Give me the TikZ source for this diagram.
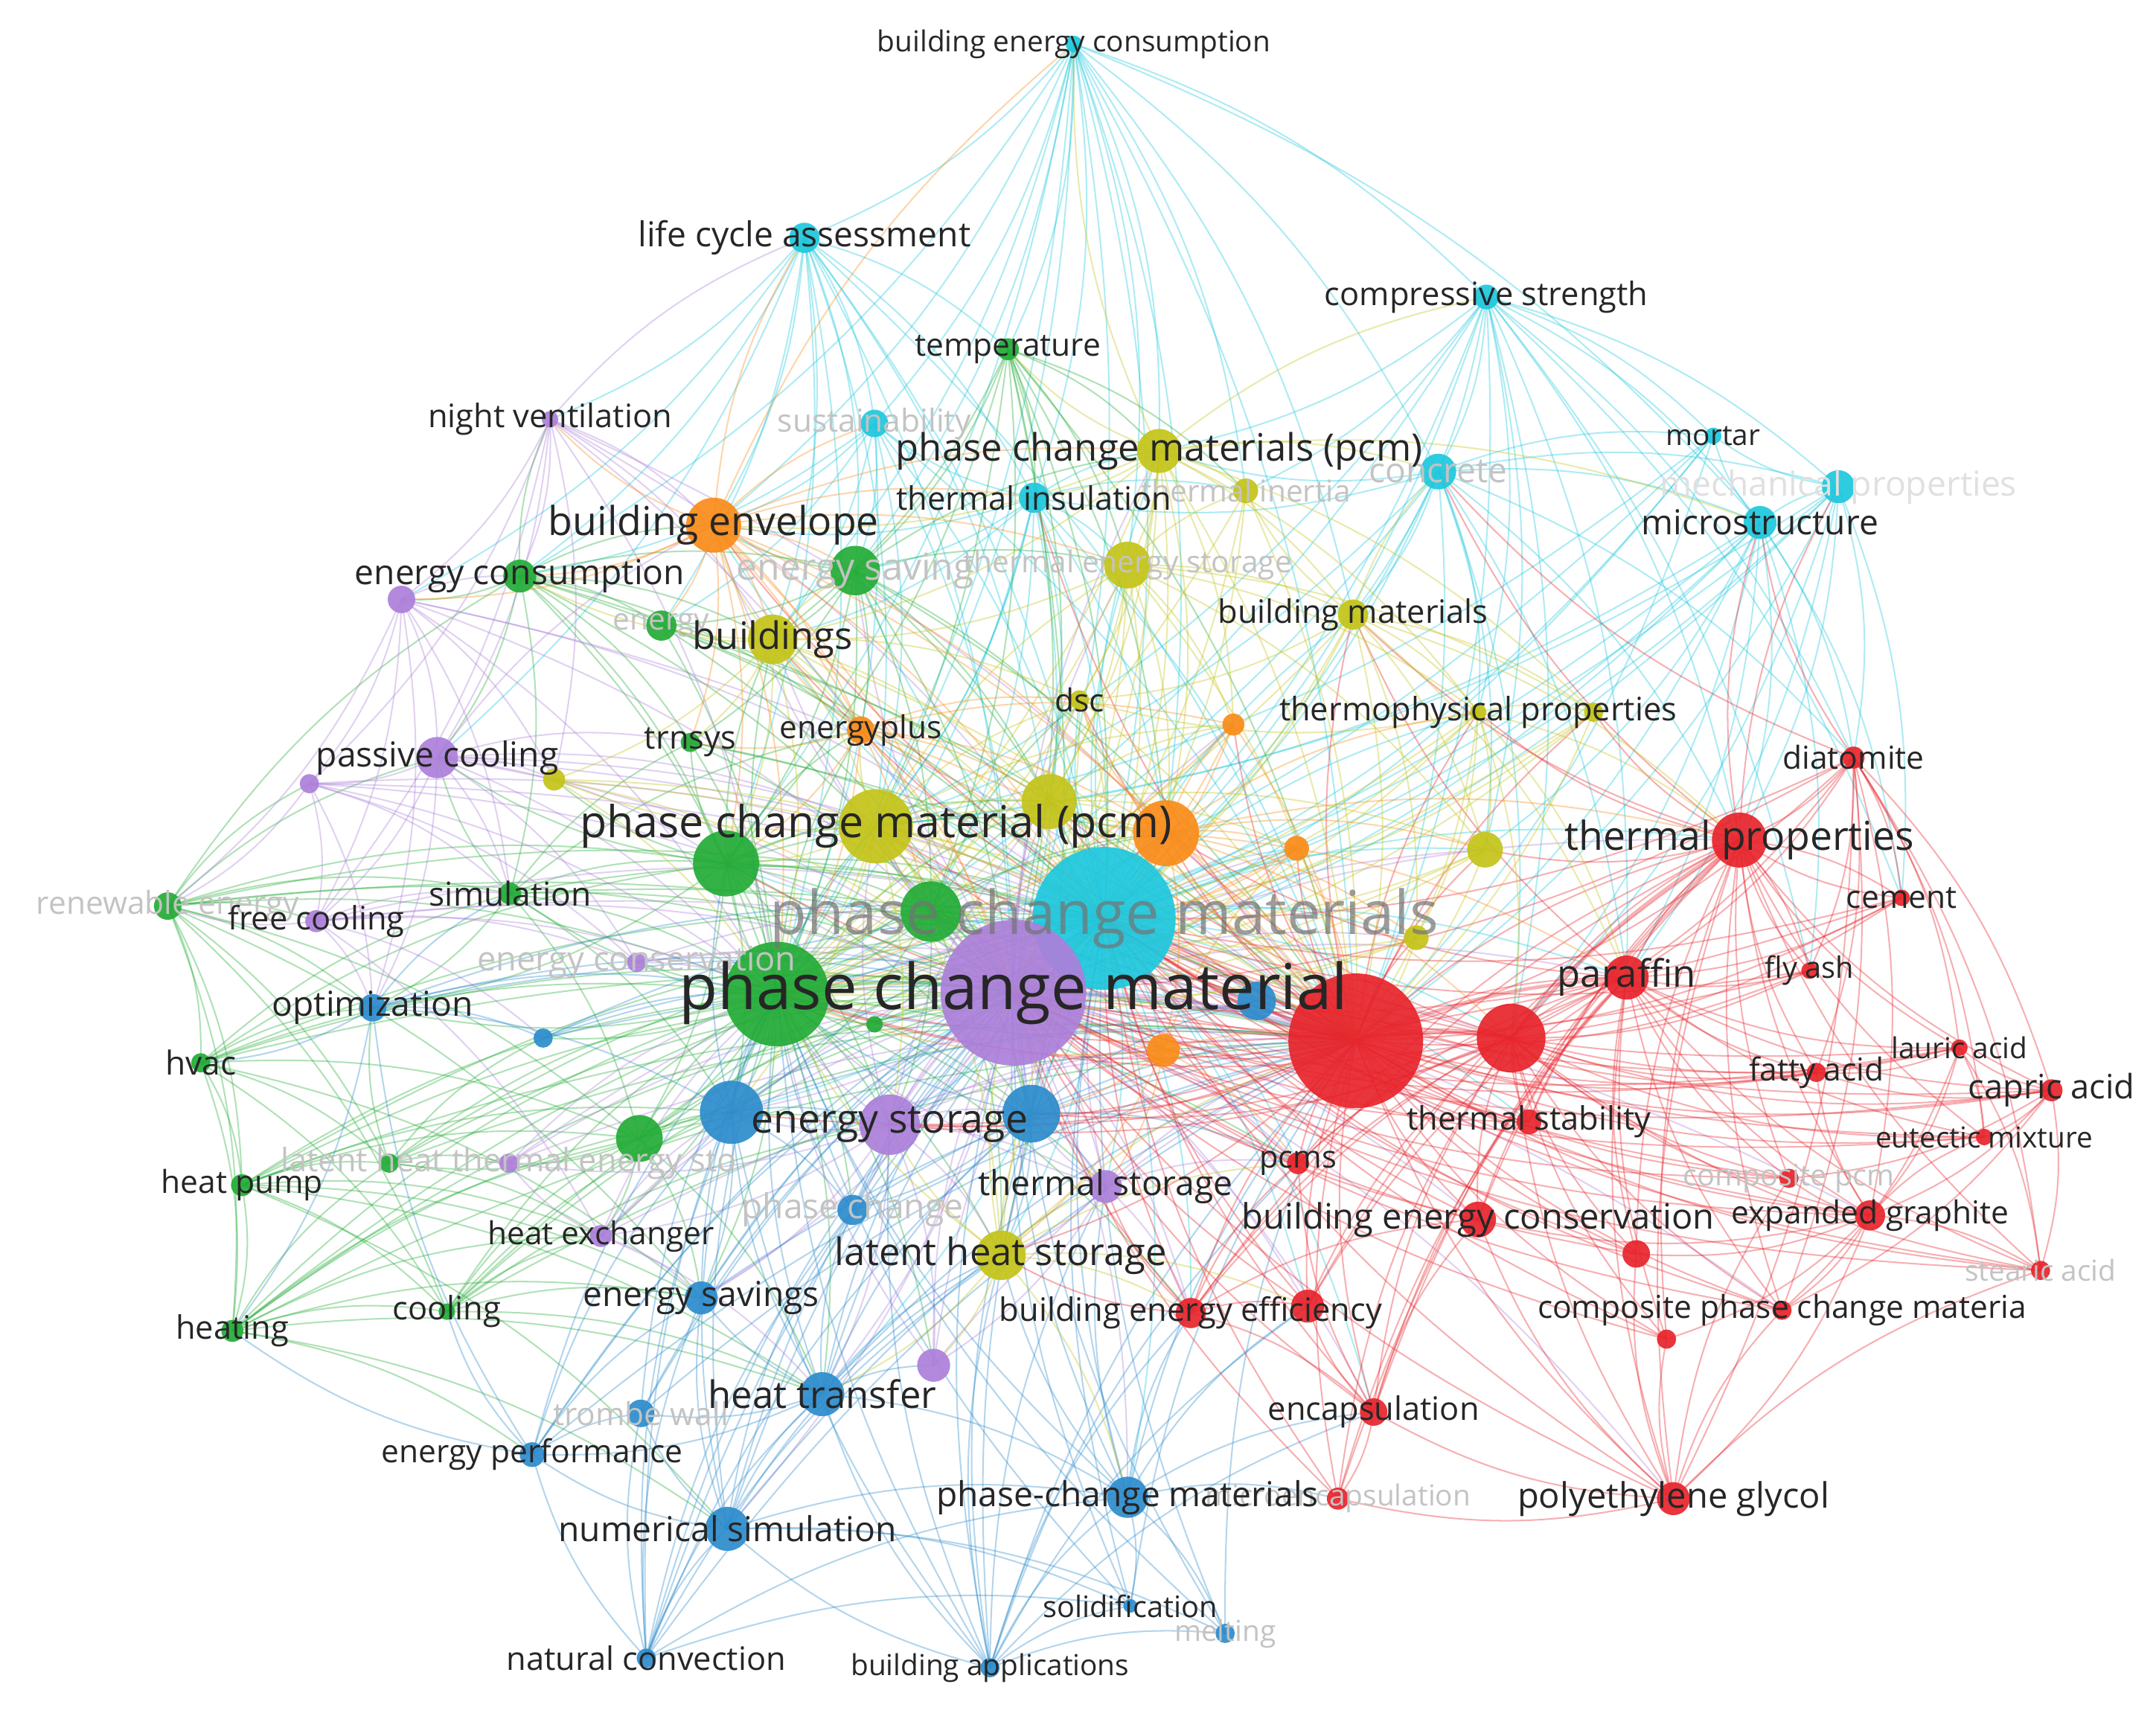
\documentclass[tikz,border=0pt]{standalone}
\usepackage{fontspec}
\setmainfont{Open Sans}
\definecolor{cyn}{RGB}{30,200,222}
\definecolor{grn}{RGB}{35,172,55}
\definecolor{blu}{RGB}{45,140,205}
\definecolor{yel}{RGB}{196,196,25}
\definecolor{pur}{RGB}{172,128,218}
\definecolor{rd}{RGB}{232,36,44}
\definecolor{org}{RGB}{250,140,25}
\definecolor{lbl}{RGB}{38,38,38}
\definecolor{fnt}{RGB}{195,195,195}
\newcommand\myedges[3]{\foreach \pa in {#2}{\foreach \pb in {#3}{\draw[edge,#1] (\pa) to[bend left=13] (\pb);}}}
\begin{document}
\begin{tikzpicture}[x=1pt,y=-1pt,
  edge/.style={line width=1.1pt, draw opacity=0.36},
  hub/.style={line width=2.6pt, draw opacity=0.35},
  lab/.style={text=lbl, inner sep=0pt},
  flab/.style={text=fnt, inner sep=0pt}]
\useasboundingbox (0,0) rectangle (1568,1250);
\fill[white] (0,0) rectangle (1568,1250);
\def\nodelist{pcs/803/668/52/cyn, pcm/737/722/53/pur, rB/986/757/49/rd, gB/565/723/38/grn,
bec/781/32/6/cyn, lca/585/173/11/cyn, cst/1081/216/9/cyn, sus/636/308/10/cyn, tin/752/362/11/cyn,
con/1046/343/13/cyn, mor/1246/317/6/cyn, mec/1337/354/12/cyn, mic/1280/380/12/cyn,
tem/733/254/8/grn, eco/378/419/12/grn, esv/622/415/18/grn, ene/481/455/11/grn, trn/502/540/7/grn,
sim/371/650/8/grn, ren/122/659/10/grn, ga/528/628/24/grn, gb/677/663/22/grn, gc/636/745/6/grn,
hva/146/773/7/grn, hpu/176/862/8/grn, gd/283/846/7/grn, ge/465/828/17/grn, hea/169/968/8/grn, coo/325/954/6/grn,
ben/519/382/20/org, epl/626/531/10/org, oa/848/606/24/org, ob/897/527/8/org, oc/943/617/9/org, od/846/764/12/org,
pcp/843/328/16/yel, tie/906/357/9/yel, ya/820/411/17/yel, bui/562/465/18/yel, bma/984/447/11/yel,
dsc/785/509/7/yel, thp/1075/518/6/yel, yb/1159/518/7/yel, yc/403/567/8/yel, pcmb/637/601/27/yel,
yd/763/583/20/yel, ye/1080/618/13/yel, yf/1030/682/9/yel, lhs/728/913/18/yel,
nve/400/305/6/pur, pa/292/436/10/pur, pco/318/551/15/pur, pb/225/570/7/pur, fco/230/670/8/pur,
ecn/463/700/7/pur, est/647/818/22/pur, pc/370/846/7/pur, tst/804/863/12/pur, hex/437/899/8/pur, pd/679/993/12/pur,
opt/271/733/10/blu, ba/395/755/7/blu, bb/532/809/23/blu, bc/750/810/21/blu, bd/914/728/14/blu,
phc/620/880/11/blu, esa/510/944/12/blu, htr/598/1014/16/blu, trw/466/1028/10/blu, epe/387/1058/9/blu,
nsi/529/1112/16/blu, pcd/820/1089/15/blu, sol/822/1168/5/blu, mel/891/1188/7/blu, nco/470/1206/7/blu, bap/720/1213/7/blu,
rb2/1099/755/25/rd, par/1183/711/16/rd, tpr/1265/611/20/rd, dia/1348/551/8/rd, cem/1383/653/6/rd,
fly/1316/706/6/rd, lau/1425/762/6/rd, fat/1321/780/7/rd, cap/1492/793/8/rd, eut/1443/827/6/rd,
tsb/1112/816/9/rd, pms/944/846/8/rd, cpc/1301/857/7/rd, bcn/1075/887/13/rd, exg/1360/884/11/rd,
rc/1190/912/10/rd, ste/1484/924/7/rd, bee/866/955/11/rd, rd4/951/950/12/rd, cpm/1296/953/7/rd,
re/1212/974/7/rd, enc/999/1027/10/rd, mie/973/1090/8/rd, peg/1217/1090/12/rd}
\foreach \n/\x/\y/\r/\c in \nodelist {\coordinate (\n) at (\x,\y);}
% ---------- connectors ----------
% cyan
\myedges{cyn}{bec,lca,cst,sus,tin,con,mor,mec,mic}{pcm,pcs,rB,gB,pcmb}
\myedges{cyn}{bec}{lca,sus,tin,con,tem,eco,esv,ya,tie,bma,mic,cst,oa,ben,bui,pcp,ga}
\myedges{cyn}{lca}{sus,tin,eco,nve,esv,bui,ben,pco,tem,ga,yd,pa,ene}
\myedges{cyn}{cst}{con,mor,mec,mic,tpr,par,rb2,dia,cem,fly,bma,ye,thp,tie,pcp}
\myedges{cyn}{con}{mor,mec,mic,tpr,par,rb2,bma,thp,ye,dia,pcp,tin}
\myedges{cyn}{mic}{mec,mor,tpr,par,rb2,dia,cem,fly,ye}
\myedges{cyn}{mec}{tpr,par,rb2,dia,cem,mor}
\myedges{cyn}{tin}{sus,ben,bui,esv,tie,yd,pcmb,oa,gb,ya,pcp}
\myedges{cyn}{sus}{ben,esv,eco,bui,ene}
\myedges{cyn}{pcs}{bd,oa,od,yd,ye,yf,pms,tsb,rb2,bc,bb,est,htr,lhs,tst,par,tpr,bee,rd4,enc,pcd,ga,gb,pcmb,bui,ben,esv,ya,dsc,ob,oc,bma,thp,pcp}
% green
\myedges{grn}{tem,eco,esv,ene,trn,sim,ren,ga,gb,gc,hva,hpu,gd,ge,hea,coo}{pcm,pcs,rB,gB}
\myedges{grn}{gB}{gb,ga,ge,bb,bc,est,lhs,tst,htr,esa,opt,pcmb,od,pd,bee,pms,phc,hex,ecn,sim,ba,yd,oa,bui,epl}
\myedges{grn}{ren}{hva,hpu,hea,coo,sim,opt,ga,ge,eco,fco,pco,esa,gd,pb}
\myedges{grn}{hva}{hpu,hea,coo,ge,sim,opt,ga,esa,gd}
\myedges{grn}{hpu}{hea,coo,gd,ge,esa,htr,hex,bb,nsi}
\myedges{grn}{hea}{coo,gd,ge,esa,htr,nsi,hex,bb,epe}
\myedges{grn}{coo}{ge,esa,htr,bb,est,hex}
\myedges{grn}{eco}{esv,ene,ben,bui,trn,sim,ga,pa,pco,epl,nve}
\myedges{grn}{esv}{ben,bui,ene,epl,ga,gb,yd,oa,ya,pcp,trn}
\myedges{grn}{tem}{pcp,tin,esv,ga,gb,yd,oa,bui,lhs,ya,tie}
\myedges{grn}{sim}{trn,ga,opt,pco,epl,bb,ge}
\myedges{grn}{ga}{gb,pcmb,est,bb,ge,opt,trn,bui,epl,yc,pco,yd,oa,bc}
\myedges{grn}{gb}{pcmb,yd,oa,est,bb,bc,od,lhs,dsc}
\myedges{grn}{ge}{bb,est,gd,esa,htr,hex,pc}
\myedges{grn}{gd}{pc,hex,opt,ba}
% purple
\myedges{pur}{nve,pa,pco,pb,fco,ecn,est,pc,tst,hex,pd}{pcm,pcs,rB,gB}
\myedges{pur}{nve}{pco,pa,pb,fco,ben,eco,lca,yc,bui}
\myedges{pur}{pa}{pco,pb,fco,eco,ren,sim,opt,yc}
\myedges{pur}{pco}{pb,fco,sim,ecn,ben,yc,ga,opt,trn,pcmb}
\myedges{pur}{pb}{fco,ren,sim,opt,ecn}
\myedges{pur}{fco}{opt,ecn,sim,ba,ren,hex}
\myedges{pur}{est}{tst,bb,bc,lhs,phc,pd,esa,htr,hex,pc,pcmb,od,oa,yd}
\myedges{pur}{tst}{lhs,bc,pd,pms,bee}
\myedges{pur}{hex}{pc,esa,htr,bb}
\myedges{pur}{pcm}{rb2,par,tpr,pcmb,ga,gb,yd,oa,bd,bc,bb,est,lhs,tst,od,pms,bee,tsb,bcn,htr,nsi,pcd,esa,ben,bui,esv,ya,pcp,dsc,yf,ye,ob,oc,rd4,enc,exg,cpm,peg}
% blue
\myedges{blu}{opt,ba,bb,bc,bd,phc,esa,htr,trw,epe,nsi,pcd,sol,mel,nco,bap}{pcm,pcs,rB,gB}
\myedges{blu}{nco}{nsi,htr,epe,trw,esa,pcd,bb,bc,phc,lhs,sol}
\myedges{blu}{bap}{pcd,htr,nsi,sol,mel,bc,lhs,pms,bee,rd4,enc,tst,est,bb}
\myedges{blu}{nsi}{htr,epe,trw,esa,pcd,bb,phc,sol,mel,lhs}
\myedges{blu}{htr}{esa,trw,epe,pcd,bb,bc,phc,lhs,pd}
\myedges{blu}{pcd}{sol,mel,enc,mie,bee,rd4,lhs,tst}
\myedges{blu}{epe}{trw,esa,bb,opt,hea,coo}
\myedges{blu}{opt}{ba,bb,sim,hva,hea}
\myedges{blu}{bc}{lhs,tst,bd,phc,pms,oa,yd}
\myedges{blu}{bb}{est,phc,esa,ga,pcmb}
% red
\myedges{rd}{dia,cem,fly,lau,fat,cap,eut,tsb,pms,cpc,bcn,exg,rc,ste,bee,rd4,cpm,re,enc,mie,peg}{rB,rb2,par,tpr,pcm,pcs}
\myedges{rd}{rB}{rb2,par,tpr,gB,est,bb,bc,ga,gb,pcmb,lhs,yd,oa,ben,bui,tin,bma,od,bd,yf,ye,oc,ob,thp,yb,dsc}
\myedges{rd}{rb2}{par,tpr,gB,est,pcmb,yd,oa,bc}
\myedges{rd}{par}{tpr,gB,bma,est,oa}
\myedges{rd}{dia}{cem,fly,exg,cap,lau,fat,eut,ste,cpm,peg,mic,con}
\myedges{rd}{cap}{lau,fat,eut,ste,exg,cpc,cpm}
\myedges{rd}{lau}{fat,eut,ste,exg,cpm}
\myedges{rd}{exg}{ste,cpc,cpm,rc,re,peg,fat,eut,bcn}
\myedges{rd}{peg}{cpm,rc,re,enc,mie,bcn,cpc,ste}
\myedges{rd}{tpr}{cem,fly,bma,thp,ye,yb,con,mic,mec}
\myedges{rd}{bee}{rd4,enc,pms,bcn,lhs,tst}
\myedges{rd}{enc}{mie,rd4,pms,bcn}
% yellow
\myedges{yel}{pcp,tie,ya,bui,bma,dsc,thp,yb,yc,pcmb,yd,ye,yf,lhs}{pcm,pcs,rB,gB}
\myedges{yel}{pcp}{tie,ya,bma,dsc,thp,yb,bui,tin,ben,yd,oa,ob,tem,bec,con,cst,mic}
\myedges{yel}{ya}{bma,dsc,thp,yb,bui,ob,tie,yd,oa,ye}
\myedges{yel}{bma}{thp,yb,dsc,tie,ye,yf,par,tpr,con}
\myedges{yel}{thp}{yb,ye,yf,par,tpr,rb2,dsc}
\myedges{yel}{bui}{ben,epl,pcmb,yd,ga,eco,esv,ene,trn,yc,dsc}
\myedges{yel}{pcmb}{yd,oa,lhs,est,bb,bc,ga,gb,epl,yc,dsc,ob,ya}
\myedges{yel}{lhs}{tst,bc,est,pd,pms,bee,rd4,pcd,htr}
\myedges{yel}{yd}{oa,dsc,ob,ye,oc}
% orange
\myedges{org}{ben,epl,oa,ob,oc,od}{pcm,pcs,rB,gB}
\myedges{org}{ben}{eco,esv,ene,bui,epl,ya,pcp,tin,sus,lca,bec,ga,gb,oa,trn,nve,pa}
\myedges{org}{epl}{trn,bui,ga,oa,ob,yd,dsc}
\myedges{org}{oa}{ob,oc,od,yd,dsc,thp,ye,yf,par,rb2,tpr}
\myedges{org}{od}{oc,bc,tst,lhs,pms}
% strong links between the main items
\draw[hub,pur] (pcm) to[bend left=9] (pcs);
\draw[hub,pur] (pcm) to[bend left=9] (rB);
\draw[hub,rd] (rB) to[bend left=9] (pcs);
\draw[hub,grn] (gB) to[bend left=9] (pcm);
\draw[hub,rd] (rB) to[bend left=9] (rb2);
\draw[hub,rd] (rb2) to[bend left=9] (tpr);
\draw[hub,rd] (rB) to[bend left=9] (par);
% ---------- items ----------
\foreach \n/\x/\y/\r/\c in \nodelist {\fill[\c, fill opacity=0.92] (\n) circle[radius=\r pt];}
% ---------- labels ----------
\node[text=black!55, text opacity=0.7, inner sep=0pt, font=\fontsize{44}{44}\selectfont] at (pcs) {phase change materials};
\foreach \n/\s/\tx in {sus/23/sustainability, tie/22/thermal inertia, con/25/concrete, esv/27/energy saving,
  ya/22/thermal energy storage, ene/22/energy, ren/23/renewable energy, ecn/24.5/energy conservation,
  pc/23.5/latent heat thermal energy sto, phc/25/phase change, cpc/21.5/composite pcm, ste/21/stearic acid,
  trw/23/trombe wall, mie/21/microencapsulation, mel/21/melting}
  {\node[flab, font=\fontsize{\s}{\s}\selectfont] at (\n) {\tx};}
\node[text=black!12, inner sep=0pt, font=\fontsize{25}{25}\selectfont] at (mec) {mechanical properties};
\foreach \n/\s/\tx in {bec/21/building energy consumption, lca/25/life cycle assessment, cst/23.5/compressive strength,
  tin/23.5/thermal insulation, mor/21/mortar, mic/25/microstructure, tem/23/temperature, eco/25/energy consumption,
  trn/23.5/trnsys, sim/24/simulation, hva/24/hvac, hpu/23/heat pump, hea/23.5/heating, coo/23.5/cooling,
  ben/29/building envelope, epl/23/energyplus, pcp/27.5/phase change materials (pcm), bui/27.5/buildings,
  bma/23.5/building materials, dsc/23/dsc, thp/23.5/thermophysical properties, pcmb/32/phase change material (pcm),
  lhs/27.5/latent heat storage, nve/23.5/night ventilation, pco/25/passive cooling, fco/23.5/free cooling,
  pcm/46/phase change material, est/29/energy storage, tst/25/thermal storage, hex/23/heat exchanger,
  opt/25/optimization, esa/25/energy savings, htr/27.5/heat transfer, epe/23/energy performance,
  nsi/25/numerical simulation, pcd/25/phase-change materials, sol/21.5/solidification, nco/23.5/natural convection,
  bap/21/building applications, par/27.5/paraffin, tpr/29/thermal properties, dia/23/diatomite, cem/23/cement,
  fly/21.5/fly ash, lau/21/lauric acid, fat/23/fatty acid, cap/24.5/capric acid, eut/21/eutectic mixture,
  tsb/23.5/thermal stability, pms/22.5/pcms, bcn/25.5/building energy conservation, exg/23/expanded graphite,
  bee/23.5/building energy efficiency, cpm/23/composite phase change materia, enc/23.5/encapsulation,
  peg/25.5/polyethylene glycol}
  {\node[lab, font=\fontsize{\s}{\s}\selectfont] at (\n) {\tx};}
\end{tikzpicture}
\end{document}
